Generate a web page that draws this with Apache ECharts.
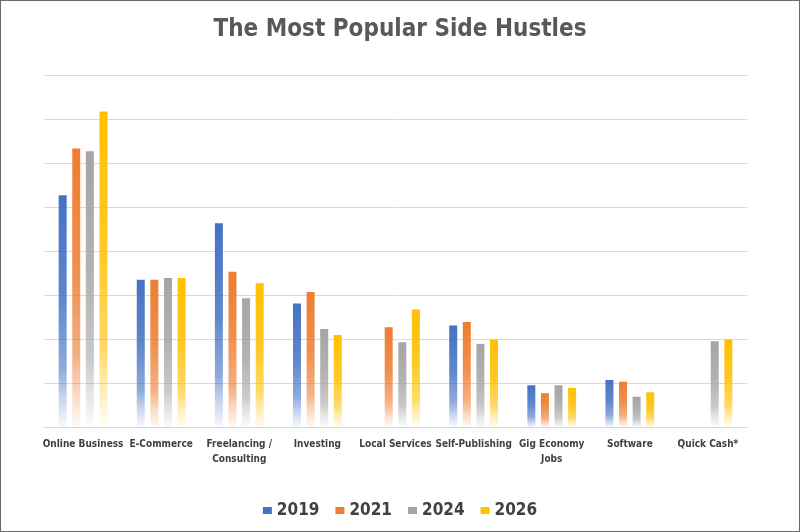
<!doctype html>
<html>
<head>
  <meta charset="utf-8">
  <title>The Most Popular Side Hustles</title>
  <script src="https://cdn.jsdelivr.net/npm/echarts@6/dist/echarts.min.js"></script>
  <style>
    html, body { margin: 0; padding: 0; background: #fff; }
    #wrap { width: 800px; height: 532px; box-sizing: border-box; border: 1px solid #6b6b6b; }
    #chart { width: 798px; height: 530px; }
  </style>
</head>
<body>
  <div id="wrap"><div id="chart"></div></div>
  <script>
    // categories + series values (grid step = 5)
    var categories = ['Online Business', 'E-Commerce', 'Freelancing /\nConsulting', 'Investing',
      'Local Services', 'Self-Publishing', 'Gig Economy\nJobs', 'Software', 'Quick Cash*'];
    var years = ['2019', '2021', '2024', '2026'];
    var v2019 = [26.4, 16.8, 23.2, 14.1, null, 11.6, 4.8, 5.4, null];
    var v2021 = [31.7, 16.8, 17.7, 15.4, 11.4, 12.0, 3.9, 5.2, null];
    var v2024 = [31.4, 17.0, 14.7, 11.2, 9.7, 9.5, 4.8, 3.5, 9.8];
    var v2026 = [35.9, 17.0, 16.4, 10.5, 13.4, 10.0, 4.5, 4.0, 10.0];
    var colors = ['#4472C4', '#ED7D31', '#A5A5A5', '#FFC000'];

    var FONT = '"DejaVu Sans Condensed", "DejaVu Sans", sans-serif';

    function hexA(hex, a) {
      var r = parseInt(hex.substr(1, 2), 16), g = parseInt(hex.substr(3, 2), 16), b = parseInt(hex.substr(5, 2), 16);
      return 'rgba(' + r + ',' + g + ',' + b + ',' + a + ')';
    }

    // excel style gradient: solid on top, fading to white at the bottom
    function fade(hex) {
      return new echarts.graphic.LinearGradient(0, 0, 0, 1, [
        { offset: 0, color: hexA(hex, 1) },
        { offset: 0.45, color: hexA(hex, 0.85) },
        { offset: 0.75, color: hexA(hex, 0.6) },
        { offset: 0.87, color: hexA(hex, 0.3) },
        { offset: 1, color: hexA(hex, 0.03) }
      ]);
    }

    var allValues = [v2019, v2021, v2024, v2026];
    var series = [];
    for (var i = 0; i < years.length; i++) {
      series.push({
        name: years[i],
        type: 'bar',
        data: allValues[i],
        barWidth: 8,
        barGap: '70%',
        itemStyle: { color: fade(colors[i]) }
      });
    }

    var chart = echarts.init(document.getElementById('chart'));
    chart.setOption({
      animation: false,
      color: colors,
      title: {
        text: 'The Most Popular Side Hustles',
        left: 'center',
        top: 12,
        textStyle: {
          fontFamily: FONT,
          fontWeight: 'bold',
          fontSize: 24,
          color: '#595959'
        }
      },
      legend: {
        bottom: 7,
        left: 'center',
        itemWidth: 9,
        itemHeight: 7,
        itemGap: 16,
        icon: 'rect',
        textStyle: {
          fontFamily: FONT,
          fontWeight: 'bold',
          fontSize: 17,
          color: '#404040'
        },
        data: years.map(function (y, k) {
          return { name: y, itemStyle: { color: colors[k] } };
        })
      },
      grid: { left: 43, right: 52, top: 74.5, bottom: 103.5 },
      xAxis: {
        type: 'category',
        data: categories,
        axisTick: { show: false },
        axisLine: { lineStyle: { color: '#d9d9d9' } },
        axisLabel: {
          interval: 0,
          margin: 9,
          fontFamily: FONT,
          fontWeight: 'bold',
          fontSize: 10,
          lineHeight: 15,
          color: '#404040'
        }
      },
      yAxis: {
        type: 'value',
        min: 0,
        max: 40,
        interval: 5,
        axisLabel: { show: false },
        axisLine: { show: false },
        axisTick: { show: false },
        splitLine: { lineStyle: { color: '#d9d9d9' } }
      },
      series: series
    });
  </script>
</body>
</html>
